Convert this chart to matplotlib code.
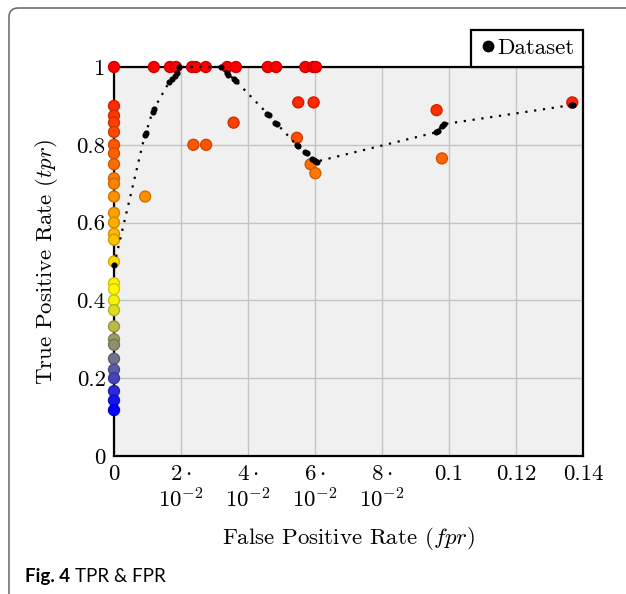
import matplotlib
matplotlib.use("Agg")
import matplotlib.pyplot as plt
import numpy as np
from matplotlib.colors import LinearSegmentedColormap
from matplotlib.lines import Line2D
from matplotlib.patches import FancyBboxPatch

plt.rcParams['font.family'] = 'serif'
plt.rcParams['font.serif'] = ['cmr10', 'DejaVu Serif']
plt.rcParams['mathtext.fontset'] = 'cm'
plt.rcParams['axes.unicode_minus'] = False
plt.rcParams['axes.formatter.use_mathtext'] = True

# colored points (fpr, tpr)
fpr_pts = [0, 0, 0, 0, 0, 0, 0, 0, 0, 0, 0, 0, 0, 0, 0, 0, 0, 0, 0, 0, 0, 0, 0, 0, 0, 0, 0, 0, 0,
           0.0119, 0.0167, 0.0185, 0.0233, 0.0244, 0.0274, 0.0338, 0.0364, 0.0459, 0.0484,
           0.0571, 0.0595, 0.0603,
           0.0093, 0.0237, 0.0275, 0.0357, 0.0550, 0.0596, 0.0546, 0.0587, 0.0601,
           0.0963, 0.0979, 0.1368]
tpr_pts = [1.0, 0.9, 0.875, 0.857, 0.833, 0.8, 0.778, 0.75, 0.714, 0.7, 0.667, 0.625, 0.6,
           0.571, 0.556, 0.5, 0.444, 0.429, 0.4, 0.375, 0.333, 0.3, 0.286, 0.25, 0.222, 0.2,
           0.167, 0.143, 0.118,
           1.0, 1.0, 1.0, 1.0, 1.0, 1.0, 1.0, 1.0, 1.0, 1.0, 1.0, 1.0, 1.0,
           0.667, 0.8, 0.8, 0.857, 0.909, 0.909, 0.818, 0.75, 0.727,
           0.889, 0.765, 0.909]

# dataset path
ds_fpr = [0, 0.0092, 0.0095, 0.0115, 0.0119, 0.0165, 0.0172, 0.0183, 0.0188, 0.0195,
          0.032, 0.0336, 0.034, 0.0358, 0.0364, 0.0458, 0.0464, 0.0481, 0.0487,
          0.0545, 0.055, 0.0571, 0.0576, 0.0592, 0.0598, 0.0601, 0.0605,
          0.0961, 0.0966, 0.0979, 0.0984, 0.1365, 0.1371]
ds_tpr = [0.49, 0.825, 0.83, 0.885, 0.892, 0.962, 0.97, 0.978, 0.985, 1.0,
          1.0, 0.985, 0.98, 0.97, 0.964, 0.88, 0.876, 0.857, 0.853,
          0.8, 0.796, 0.782, 0.778, 0.764, 0.76, 0.759, 0.757,
          0.832, 0.836, 0.849, 0.853, 0.902, 0.902]

xticks = [0, 0.02, 0.04, 0.06, 0.08, 0.1, 0.12, 0.14]
xticklabels = ['0', '$2\\cdot$\n$10^{-2}$', '$4\\cdot$\n$10^{-2}$', '$6\\cdot$\n$10^{-2}$',
               '$8\\cdot$\n$10^{-2}$', '0.1', '0.12', '0.14']
yticks = [0, 0.2, 0.4, 0.6, 0.8, 1]
yticklabels = ['0', '0.2', '0.4', '0.6', '0.8', '1']

# pgfplots "hot" colormap
hot = LinearSegmentedColormap.from_list('pgfhot', ['#0000ff', '#ffff00', '#ff8000', '#ff0000'])
tpr_arr = np.array(tpr_pts)
norm = plt.Normalize(tpr_arr.min(), tpr_arr.max())
face = [hot(norm(v)) for v in tpr_arr]
edge = [tuple(np.array(c[:3]) * 0.8) + (1,) for c in face]

fig = plt.figure(figsize=(6.26, 5.94), dpi=100)
ax = fig.add_axes([114/626, 1 - 456/594, 469/626, 389/594])
ax.set_facecolor('#f0f0f0')
ax.set_xlim(0, 0.14)
ax.set_ylim(0, 1)
ax.grid(True, color='#c4c4c4', linewidth=1)
ax.set_axisbelow(True)
for s in ax.spines.values():
    s.set_color('black')
    s.set_linewidth(1.6)

ax.scatter(fpr_pts, tpr_pts, s=62, c=face, edgecolors=edge, linewidths=1, zorder=3, clip_on=False)
ax.plot(ds_fpr, ds_tpr, color='black', linestyle=(0, (1, 3)), linewidth=1.6,
        marker='o', markersize=3.4, zorder=4, clip_on=False)

fs = 16.5
ax.set_xticks(xticks)
ax.set_xticklabels(xticklabels, fontsize=fs, linespacing=1.15)
ax.set_yticks(yticks)
ax.set_yticklabels(yticklabels, fontsize=fs)
ax.tick_params(length=0, pad=6)

ax.set_xlabel('False Positive Rate ($fpr$)', fontsize=fs, labelpad=10)
ax.set_ylabel('True Positive Rate ($tpr$)', fontsize=fs, labelpad=12)

handle = Line2D([], [], color='black', marker='o', linestyle='none', markersize=7.5)
leg = ax.legend([handle], ['Dataset'], loc='lower right', bbox_to_anchor=(1, 1),
                borderaxespad=0, fancybox=False, edgecolor='black', framealpha=1,
                fontsize=fs, handletextpad=0.05, handlelength=0.7, borderpad=0.38)
leg.get_frame().set_linewidth(1.6)

# page frame
frame = FancyBboxPatch((9/626, -0.2), 1.2, 1 - 8/594 + 0.2, boxstyle='round,pad=0,rounding_size=0.015',
                       transform=fig.transFigure, fill=False, edgecolor='#707070', linewidth=1.2)
fig.patches.append(frame)

fig.text(25/626, 1 - 582/594, 'Fig. 4', family='Lato', fontweight='bold', fontsize=13.5)
fig.text(75/626, 1 - 582/594, 'TPR & FPR', family='Lato', fontsize=13.5)

fig.savefig('out.png', dpi=100)
